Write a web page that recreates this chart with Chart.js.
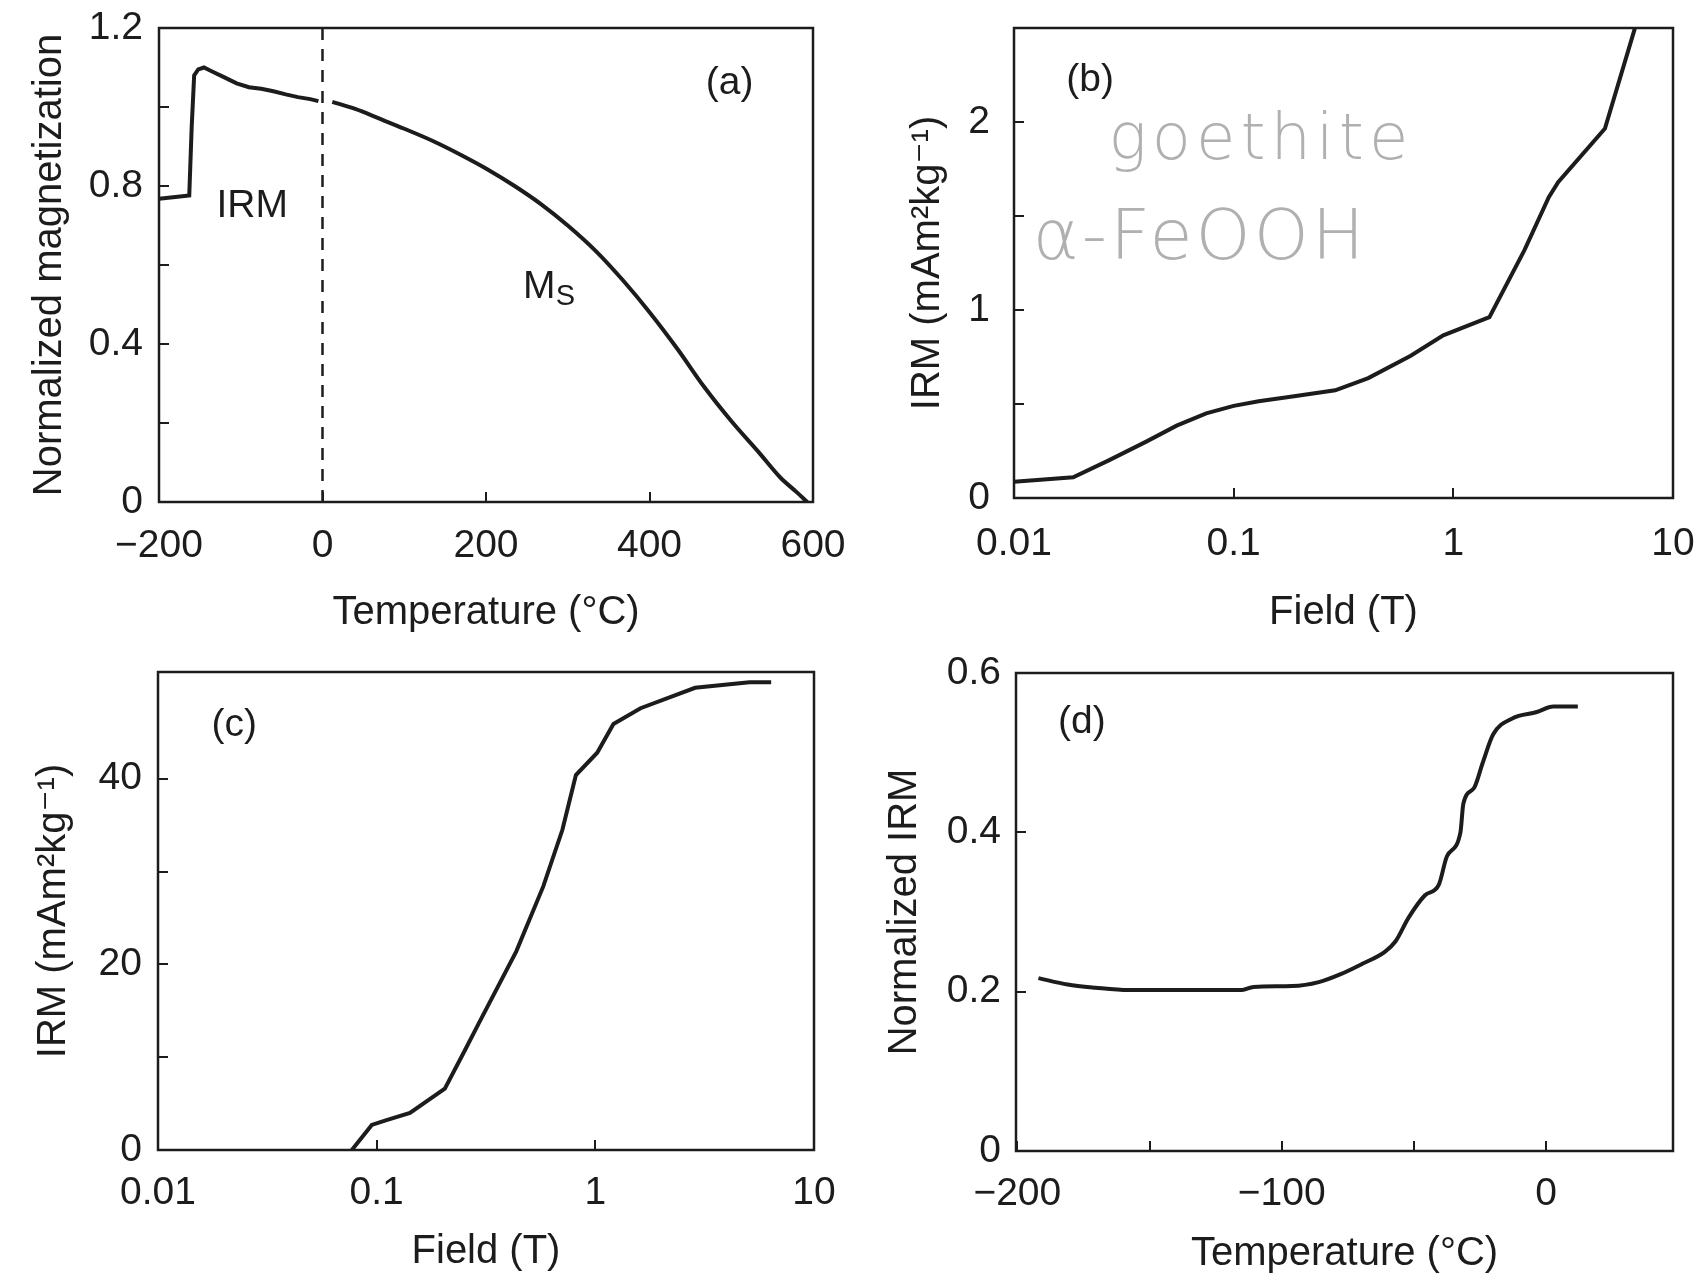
<!DOCTYPE html>
<html>
<head>
<meta charset="utf-8">
<script src="https://cdn.jsdelivr.net/npm/chart.js@4.4.1/dist/chart.umd.min.js"></script>
<style>
  html, body { margin: 0; padding: 0; background: #fff; }
  #fig { position: relative; width: 1695px; height: 1279px; background: #fff; overflow: hidden; }
  canvas { position: absolute; }
</style>
</head>
<body>
<div id="fig">
  <canvas id="chartA" width="850" height="640" style="left:0;top:0"></canvas>
  <canvas id="chartB" width="845" height="640" style="left:850px;top:0"></canvas>
  <canvas id="chartC" width="850" height="639" style="left:0;top:640px"></canvas>
  <canvas id="chartD" width="845" height="639" style="left:850px;top:640px"></canvas>
</div>
<script>
// (a) IRM warming from -200 and Ms heating curve
const irmTemp = [-200, -180, -163, -160, -157, -152, -145, -135, -120, -105, -90, -75, -60, -45, -30, -15, -5];
const irmMag = [0.768, 0.772, 0.776, 0.95, 1.08, 1.095, 1.1, 1.09, 1.075, 1.06, 1.05, 1.046, 1.04, 1.032, 1.025, 1.02, 1.015];
const msTemp = [12, 40, 69, 100, 135, 170, 202, 235, 268, 300, 335, 368, 401, 434, 467, 500, 534, 560, 580, 593];
const msMag = [1.013, 0.995, 0.971, 0.945, 0.914, 0.878, 0.842, 0.8, 0.753, 0.7, 0.634, 0.56, 0.478, 0.388, 0.291, 0.205, 0.125, 0.062, 0.025, 0.0];

// (b) IRM acquisition, goethite
const fieldB = [0.01, 0.0186, 0.027, 0.04, 0.055, 0.075, 0.1, 0.13, 0.185, 0.29, 0.41, 0.64, 0.9, 1.46, 2.11, 2.72, 3.0, 4.9, 6.7];
const irmB = [0.086, 0.11, 0.2, 0.3, 0.385, 0.45, 0.49, 0.515, 0.54, 0.573, 0.638, 0.757, 0.865, 0.962, 1.32, 1.6, 1.68, 1.965, 2.497];

// (c) IRM acquisition
const fieldC = [0.077, 0.095, 0.11, 0.142, 0.205, 0.254, 0.291, 0.435, 0.578, 0.707, 0.815, 1.02, 1.21, 1.61, 2.86, 5.07, 6.37];
const irmC = [0, 2.7, 3.2, 4.0, 6.6, 10.8, 13.5, 21.4, 28.4, 34.5, 40.4, 42.8, 45.9, 47.6, 49.8, 50.4, 50.4];

// (d) normalized IRM vs temperature
const tempD = [-192, -181, -170.5, -158, -143.7, -115, -110.7, -96, -86, -77.7, -69.5, -61, -57, -52, -45.8, -40.6, -37.5, -32.4, -31.3, -27.2, -24, -20, -12.8, -3.5, 2.7, 12];
const irmD = [0.217, 0.209, 0.205, 0.202, 0.202, 0.202, 0.206, 0.207, 0.212, 0.222, 0.235, 0.25, 0.263, 0.293, 0.321, 0.334, 0.37, 0.4, 0.436, 0.456, 0.487, 0.523, 0.543, 0.551, 0.558, 0.558];

// tick values and labels
const tempTicksA = [-200, 0, 200, 400, 600];
const tempLabelsA = ['\u2212200', '0', '200', '400', '600'];
const magTicksA = [0, 0.2, 0.4, 0.6, 0.8, 1.0, 1.2];
const magLabelsA = ['0', '', '0.4', '', '0.8', '', '1.2'];
const fieldTicks = [0.01, 0.1, 1, 10];
const fieldLabels = ['0.01', '0.1', '1', '10'];
const irmTicksB = [0, 0.5, 1, 1.5, 2];
const irmLabelsB = ['0', '', '1', '', '2'];
const irmTicksC = [0, 10, 20, 30, 40];
const irmLabelsC = ['0', '', '20', '', '40'];
const tempTicksD = [-200, -150, -100, -50, 0];
const tempLabelsD = ['\u2212200', '', '\u2212100', '', '0'];
const irmTicksD = [0, 0.2, 0.4, 0.6];
const irmLabelsD = ['0', '0.2', '0.4', '0.6'];

const FONT = '"Liberation Sans", Arial, Helvetica, "DejaVu Sans", sans-serif';
const INK = '#1c1c1c';
const HAND = '#b0b0b0';

Chart.defaults.font.family = FONT;

function pts(xs, ys) {
    return xs.map((x, i) => ({ x: x, y: ys[i] }));
}

function curve(xs, ys, smooth) {
    return {
        data: pts(xs, ys),
        borderColor: INK,
        borderWidth: 4,
        pointRadius: 0,
        fill: false,
        tension: 0,
        cubicInterpolationMode: smooth ? 'monotone' : 'default'
    };
}

// box around the plot area
const framePlugin = {
    id: 'frame',
    beforeDatasetsDraw(chart) {
        const { ctx, chartArea: a } = chart;
        ctx.save();
        ctx.strokeStyle = INK;
        ctx.lineWidth = 2.5;
        ctx.strokeRect(a.left, a.top, a.right - a.left, a.bottom - a.top);
        ctx.restore();
    }
};

// text placed in data coordinates
function notesPlugin(notes) {
    return {
        id: 'notes',
        afterDatasetsDraw(chart) {
            const { ctx, scales } = chart;
            ctx.save();
            ctx.textAlign = 'center';
            ctx.textBaseline = 'middle';
            notes.forEach(n => {
                ctx.font = n.font || ('39px ' + FONT);
                ctx.fillStyle = n.color || INK;
                ctx.letterSpacing = n.spacing || '0px';
                ctx.fillText(n.text, scales.x.getPixelForValue(n.x), scales.y.getPixelForValue(n.y));
            });
            ctx.restore();
        }
    };
}

function axis(o) {
    return {
        type: o.type || 'linear',
        position: o.position,
        min: o.min,
        max: o.max,
        afterBuildTicks: s => { s.ticks = o.ticks.map(v => ({ value: v })); },
        afterFit: s => {
            if (o.position === 'left') s.width = o.size;
            else s.height = o.size;
            // labels may overhang the plot box, the margins are set by hand
            s.paddingLeft = 0;
            s.paddingRight = 0;
            s.paddingTop = 0;
            s.paddingBottom = 0;
        },
        border: { display: false },
        grid: {
            display: true,
            drawOnChartArea: false,
            drawTicks: true,
            tickLength: -10,
            color: INK,
            lineWidth: 2
        },
        ticks: {
            padding: o.pad,
            color: INK,
            autoSkip: false,
            maxRotation: 0,
            font: { family: FONT, size: 39 },
            callback: (v, i) => o.labels[i]
        },
        title: {
            display: true,
            text: o.title,
            color: INK,
            font: { family: FONT, size: 40 },
            padding: o.titlePad
        }
    };
}

function makeChart(id, cfg) {
    return new Chart(document.getElementById(id), {
        type: 'line',
        data: { datasets: cfg.datasets },
        options: {
            responsive: false,
            animation: false,
            events: [],
            layout: { padding: { top: cfg.top, right: cfg.right, left: 0, bottom: 0 } },
            plugins: { legend: { display: false }, tooltip: { enabled: false } },
            scales: { x: cfg.x, y: cfg.y }
        },
        plugins: [framePlugin, notesPlugin(cfg.notes)]
    });
}

// (a)
makeChart('chartA', {
    top: 28, right: 37,
    datasets: [
        curve(irmTemp, irmMag, false),
        curve(msTemp, msMag, true),
        {
            data: pts([0, 0], [0, 1.2]),
            borderColor: INK,
            borderWidth: 2.5,
            borderDash: [12, 9],
            pointRadius: 0,
            fill: false
        }
    ],
    x: axis({ position: 'bottom', min: -200, max: 600, ticks: tempTicksA, labels: tempLabelsA,
        size: 138, pad: 31, title: 'Temperature (°C)', titlePad: { top: 0, bottom: 3 } }),
    y: axis({ position: 'left', min: 0, max: 1.2, ticks: magTicksA, labels: magLabelsA,
        size: 159, pad: 26, title: 'Normalized magnetization', titlePad: { top: 26, bottom: 0 } }),
    notes: [
        { text: '(a)', x: 498, y: 1.061 },
        { text: 'IRM', x: -86, y: 0.75 },
        { text: 'M', x: 265, y: 0.544 },
        { text: 'S', x: 297, y: 0.519, font: '29px ' + FONT }
    ]
});

// (b)
makeChart('chartB', {
    top: 28, right: 22,
    datasets: [curve(fieldB, irmB, false)],
    x: axis({ type: 'logarithmic', position: 'bottom', min: 0.01, max: 10, ticks: fieldTicks, labels: fieldLabels,
        size: 142, pad: 33, title: 'Field (T)', titlePad: { top: 0, bottom: 3 } }),
    y: axis({ position: 'left', min: 0, max: 2.5, ticks: irmTicksB, labels: irmLabelsB,
        size: 164, pad: 34, title: 'IRM (mAm²kg⁻¹)', titlePad: { top: 54, bottom: 0 } }),
    notes: [
        { text: '(b)', x: 0.0222, y: 2.22 },
        { text: 'goethite', x: 0.133, y: 1.894, font: '200 64px "DejaVu Sans", sans-serif', color: HAND, spacing: '5px' },
        { text: 'α-FeOOH', x: 0.0703, y: 1.37, font: '200 70px "DejaVu Sans", sans-serif', color: HAND, spacing: '3px' }
    ]
});

// (c)
makeChart('chartC', {
    top: 32, right: 36,
    datasets: [curve(fieldC, irmC, false)],
    x: axis({ type: 'logarithmic', position: 'bottom', min: 0.01, max: 10, ticks: fieldTicks, labels: fieldLabels,
        size: 129, pad: 30, title: 'Field (T)', titlePad: { top: 0, bottom: 3 } }),
    y: axis({ position: 'left', min: 0, max: 51.5, ticks: irmTicksC, labels: irmLabelsC,
        size: 158, pad: 26, title: 'IRM (mAm²kg⁻¹)', titlePad: { top: 30, bottom: 0 } }),
    notes: [
        { text: '(c)', x: 0.0223, y: 45.8 }
    ]
});

// (d)
makeChart('chartD', {
    top: 33, right: 22,
    datasets: [curve(tempD, irmD, true)],
    x: axis({ position: 'bottom', min: -200.5, max: 48, ticks: tempTicksD, labels: tempLabelsD,
        size: 128, pad: 30, title: 'Temperature (°C)', titlePad: { top: 0, bottom: 1 } }),
    y: axis({ position: 'left', min: 0, max: 0.6, ticks: irmTicksD, labels: irmLabelsD,
        size: 166, pad: 25, title: 'Normalized IRM', titlePad: { top: 31, bottom: 0 } }),
    notes: [
        { text: '(d)', x: -175.6, y: 0.538 }
    ]
});
</script>
</body>
</html>
